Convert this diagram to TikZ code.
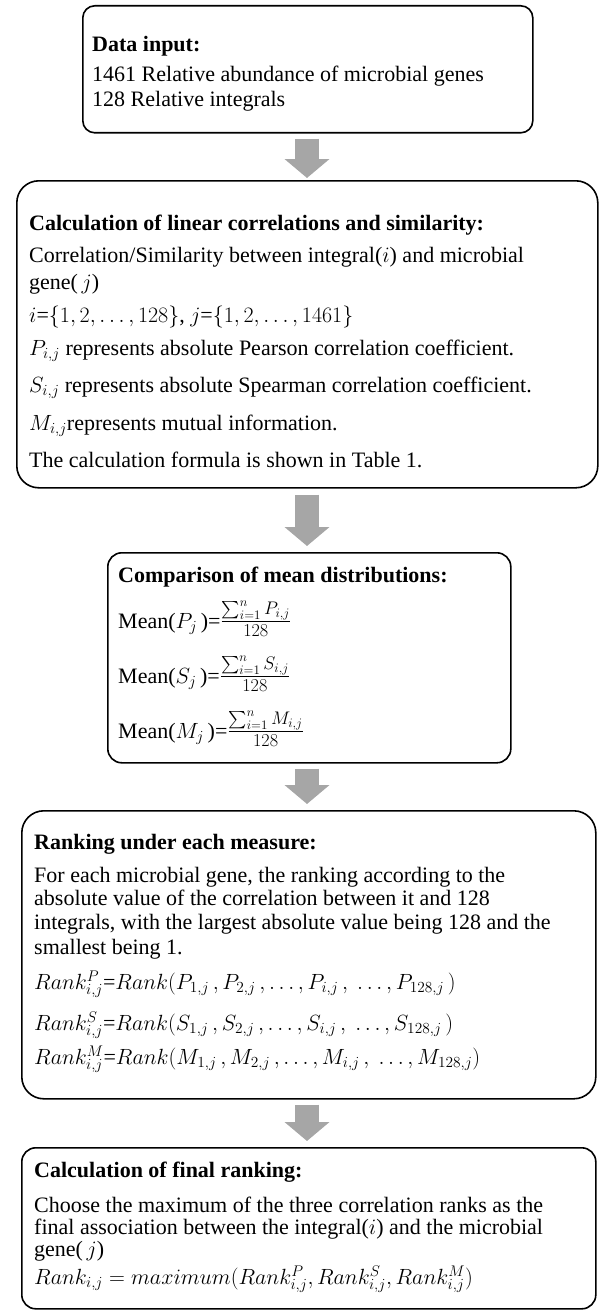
\RequirePackage{fix-cm}
\documentclass[tikz,border=0pt]{standalone}
\usepackage{amsmath}
\usepackage{fontspec}
\setmainfont{Liberation Serif}
\usetikzlibrary{arrows.meta,calc}
\definecolor{arrgray}{HTML}{A6A6A6}
\newcommand{\bigfr}[2]{{\fontsize{26}{28}\selectfont$\frac{#1}{#2}$}}
\tikzset{
  boxframe/.style={draw=black, line width=1.6pt, inner sep=0pt, anchor=north west, rounded corners=#1},
  txt/.style={anchor=base west, inner sep=0pt, font=\fontsize{22}{26}\selectfont},
  ttl/.style={anchor=base west, inner sep=0pt, font=\fontsize{22}{26}\selectfont\bfseries},
  blockarrow/.style={draw=arrgray, line width=24pt, -{Triangle[width=44pt,length=19pt,fill=arrgray]}},
}
\begin{document}
\begin{tikzpicture}[x=1pt,y=-1pt]
\useasboundingbox (0,0) rectangle (598,1311);
% boxes
\node[boxframe=12pt, minimum width=450pt, minimum height=127pt] (b1) at (82,5) {};
\node[boxframe=22pt, minimum width=581pt, minimum height=307pt] (b2) at (16,180) {};
\node[boxframe=14pt, minimum width=403pt, minimum height=210pt] (b3) at (107,552) {};
\node[boxframe=22pt, minimum width=574pt, minimum height=288pt] (b4) at (21,810) {};
\node[boxframe=14pt, minimum width=574pt, minimum height=161pt] (b5) at (21,1147) {};
% arrows
\coordinate (ax) at (307,0);
\draw[blockarrow] ($(b1.south -| ax)+(0,5)$) -- ($(b2.north -| ax)+(0,-2)$);
\draw[blockarrow] ($(b2.south -| ax)+(0,6)$) -- ($(b3.north -| ax)+(0,-6)$);
\draw[blockarrow] ($(b3.south -| ax)+(0,5)$) -- ($(b4.north -| ax)+(0,-6)$);
\draw[blockarrow] ($(b4.south -| ax)+(0,5)$) -- ($(b5.north -| ax)+(0,-6)$);
% box 1
\node[ttl] (t11) at (92,52) {Data input:};
\node[txt] (t12) at (92,82) {1461 Relative abundance of microbial genes};
\node[txt] (t13) at (92,107) {128 Relative integrals};
% box 2
\node[ttl] (t21) at (29,230) {Calculation of linear correlations and similarity:};
\node[txt] (t22) at (29,262) {Correlation/Similarity between integral($i$) and microbial};
\node[txt] (t23) at (29,289) {gene($\,j$)};
\node[txt] (t24) at (29,322) {$i$=$\{1,2,\dots,128\}$, $j$=$\{1,2,\dots,1461\}$};
\node[txt] (t25) at (29,355) {$P_{i,j}$ represents absolute Pearson correlation coefficient.};
\node[txt] (t26) at (29,392) {$S_{i,j}$ represents absolute Spearman correlation coefficient.};
\node[txt] (t27) at (29,430) {$M_{i,j}$represents mutual information.};
\node[txt] (t28) at (29,467) {The calculation formula is shown in Table 1.};
% box 3
\node[ttl] (t31) at (118,582) {Comparison of mean distributions:};
\node[txt] (t32) at (118,628) {Mean($P_j$\,)=\bigfr{\sum_{i=1}^{n}P_{i,j}}{128}};
\node[txt] (t33) at (118,683) {Mean($S_j$\,)=\bigfr{\sum_{i=1}^{n}S_{i,j}}{128}};
\node[txt] (t34) at (118,738) {Mean($M_j$\,)=\bigfr{\sum_{i=1}^{n}M_{i,j}}{128}};
% box 4
\node[ttl] (t41) at (34,849) {Ranking under each measure:};
\node[txt] (t42) at (34,882) {For each microbial gene, the ranking according to the};
\node[txt] (t43) at (34,905) {absolute value of the correlation between it and 128};
\node[txt] (t44) at (34,929) {integrals, with the largest absolute value being 128 and the};
\node[txt] (t45) at (34,954) {smallest being 1.};
\node[txt] (t46) at (34,989) {$Rank^{P}_{i,j}$=$Rank(P_{1,j}\,, P_{2,j}\,,\dots, P_{i,j}\,,\ \dots, P_{128,j}\,)$};
\node[txt] (t47) at (34,1030) {$Rank^{S}_{i,j}$=$Rank(S_{1,j}\,, S_{2,j}\,,\dots, S_{i,j}\,,\ \dots, S_{128,j}\,)$};
\node[txt] (t48) at (34,1064) {$Rank^{M}_{i,j}$=$Rank(M_{1,j}\,, M_{2,j}\,,\dots, M_{i,j}\,,\ \dots, M_{128,j})$};
% box 5
\node[ttl] (t51) at (34,1177) {Calculation of final ranking:};
\node[txt] (t52) at (34,1212) {Choose the maximum of the three correlation ranks as the};
\node[txt] (t53) at (34,1234) {final association between the integral($i$) and the microbial};
\node[txt] (t54) at (34,1256) {gene($\,j$)};
\node[txt] (t55) at (34,1284) {$Rank_{i,j} = maximum(Rank^{P}_{i,j}, Rank^{S}_{i,j},Rank^{M}_{i,j})$};
\end{tikzpicture}
\end{document}
